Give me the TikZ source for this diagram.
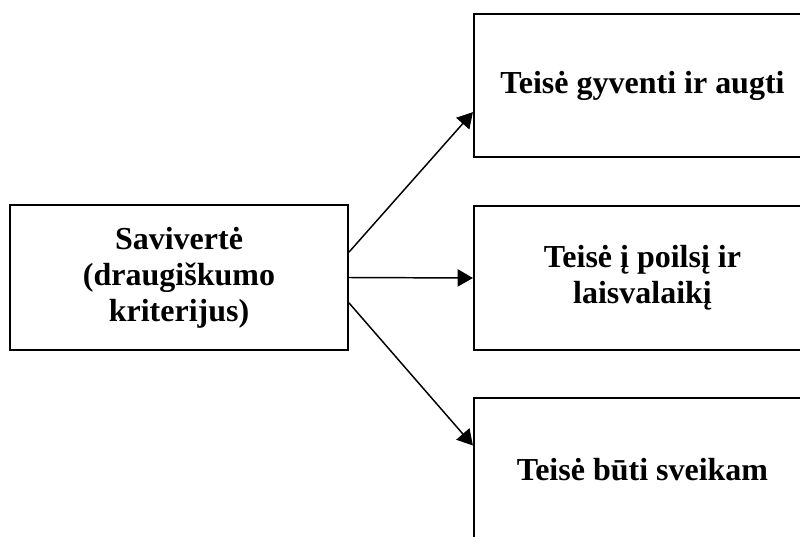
\documentclass[tikz,border=0pt]{standalone}
\usepackage{fontspec}
\setmainfont{Liberation Serif}
\usetikzlibrary{arrows.meta}

\begin{document}
\begin{tikzpicture}[
    x = 0.75pt, y = -0.75pt,
    every node/.style = {draw, rectangle, line width = 1.4pt, align = center,
      font = \fontsize{24}{27}\selectfont\bfseries, inner sep = 0pt},
    box/.style  = {minimum width = 253pt, minimum height = 107pt},
    arr/.style  = {-{Triangle[length = 11.5pt, width = 13pt]}, line width = 1.1pt}
  ]
  \useasboundingbox (0,0) rectangle (800,536);
  \clip (0,0) rectangle (800,536);

  % criterion on the left
  \node [box, minimum width = 253.5pt, minimum height = 108.75pt] (Self) at (179,277.5)
    {Savivertė\\(draugiškumo\\kriterijus)};

  % rights on the right
  \node [box] (Live)   at (642.5,85.5)  {Teisė gyventi ir augti};
  \node [box, minimum height = 108pt] (Rest) at (642.5,278) {Teisė į poilsį ir\\laisvalaikį};
  \node [box] (Health) at (642.5,469.5) {Teisė būti sveikam};

  % arrows
  \draw [arr] ([yshift = 19pt]Self.east)  -- ([yshift = -20pt]Live.west);
  \draw [arr] (Self.east)                 -- (Rest.west);
  \draw [arr] ([yshift = -19pt]Self.east) -- ([yshift = 18pt]Health.west);
\end{tikzpicture}
\end{document}
